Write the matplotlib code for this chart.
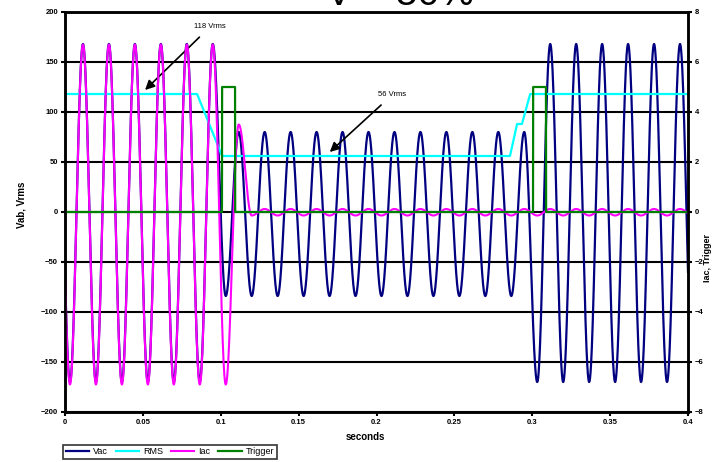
import numpy as np
import matplotlib
matplotlib.use("Agg")
matplotlib.rcParams["font.family"] = ["Liberation Sans", "DejaVu Sans"]
import matplotlib.pyplot as plt

# --- data ---
FREQ = 60.0                 # Hz
T_FIRST_EXT = 0.0032        # time of first waveform extreme (a trough), s
# signed extreme value of every half cycle (k = 0..47), voltage in V
V_EXT = ([-170, 168] * 6 + [-84] + [80, -84] * 11 + [80]
         + [-170] + [168, -170] * 5 + [168])
# current extremes in A (right axis)
I_EXT = ([-6.9, 6.7] * 6 + [-6.9] + [3.5] + [-0.14, 0.12] * 17)
# RMS trace breakpoints (s, Vrms)
RMS_T = [0.0, 0.0848, 0.1008, 0.2857, 0.2902, 0.2934, 0.2986, 0.4]
RMS_V = [118, 118, 56, 56, 88, 88, 118, 118]
# trigger pulses (start, end) in s, level on right axis
TRIG_PULSES = [(0.1008, 0.1092), (0.3005, 0.3088)]
TRIG_LEVEL = 5.0


def wave(ext, t):
    """sine-shaped half cycles joining the read extremes"""
    h = 0.5 / FREQ
    ext = [-ext[0]] + list(ext) + [-ext[-1]]
    tk = T_FIRST_EXT + (np.arange(len(ext)) - 1) * h
    y = np.zeros_like(t)
    for i in range(len(ext) - 1):
        m = (t >= tk[i]) & (t < tk[i + 1])
        a, b = ext[i], ext[i + 1]
        y[m] = (a + b) / 2 + (a - b) / 2 * np.cos(np.pi * (t[m] - tk[i]) / h)
    return y


t = np.linspace(0, 0.4, 12000)
vac = wave(V_EXT, t)
iac = wave(I_EXT, t)
rms = np.interp(t, RMS_T, RMS_V)
trig = np.zeros_like(t)
for a, b in TRIG_PULSES:
    trig[(t >= a) & (t <= b)] = TRIG_LEVEL

fig = plt.figure(figsize=(7.13, 4.62), dpi=100)
ax = fig.add_axes([65 / 713, 1 - 412 / 462, 623 / 713, 400 / 462])
ax2 = ax.twinx()

l1, = ax.plot(t, vac, color="#000080", lw=1.6)
l2, = ax.plot(t, rms, color="#00FFFF", lw=1.6)
l3, = ax2.plot(t, iac, color="#FF00FF", lw=1.5)
l4, = ax2.plot(t, trig, color="#008000", lw=1.6)

ax.set_xlim(0, 0.4)
ax.set_ylim(-200, 200)
ax2.set_ylim(-8, 8)
ax.set_xticks(np.arange(0, 0.41, 0.05))
ax.set_xticklabels(["0", "0.05", "0.1", "0.15", "0.2", "0.25", "0.3", "0.35", "0.4"])
ax.set_yticks(np.arange(-200, 201, 50))
ax2.set_yticks(np.arange(-8, 9, 2))
ax.yaxis.grid(True, color="black", lw=1.5)
ax.set_axisbelow(True)
for a in (ax, ax2):
    for sp in a.spines.values():
        sp.set_linewidth(1.8)
    a.tick_params(labelsize=5.5, width=1.5, length=3, pad=2)
    for lab in a.get_xticklabels() + a.get_yticklabels():
        lab.set_fontweight("bold")

ax.annotate("118 Vrms", xy=(0.0514, 122), xytext=(0.093, 185),
            ha="center", va="center", fontsize=5.5,
            arrowprops=dict(arrowstyle="-|>", color="black", lw=1.2,
                            mutation_scale=14, shrinkA=4, shrinkB=0))
ax.annotate("56 Vrms", xy=(0.170, 60), xytext=(0.210, 117),
            ha="center", va="center", fontsize=5.5,
            arrowprops=dict(arrowstyle="-|>", color="black", lw=1.2,
                            mutation_scale=14, shrinkA=4, shrinkB=0))

fig.text(22 / 713, 1 - 205 / 462, "Vab, Vrms", rotation=90, ha="center",
         va="center", fontsize=7, fontweight="bold")
fig.text(708 / 713, 1 - 258 / 462, "Iac, Trigger", rotation=90, ha="center",
         va="center", fontsize=6.5, fontweight="bold")
fig.text(365 / 713, 1 - 437 / 462, "seconds", ha="center", va="center",
         fontsize=7, fontweight="bold")
fig.text(400 / 713, 1 - 5 / 462, "V = 50%", ha="center", va="baseline",
         fontsize=28)

leg = fig.legend([l1, l2, l3, l4], ["Vac", "RMS", "Iac", "Trigger"],
                 loc="lower left", bbox_to_anchor=(63 / 713, 1 - 459 / 462),
                 ncol=4, fontsize=6.5, frameon=True, fancybox=False,
                 handlelength=2.6, columnspacing=0.9, handletextpad=0.4,
                 borderpad=0.3, borderaxespad=0)
leg.get_frame().set_edgecolor("black")
leg.get_frame().set_linewidth(1.2)

fig.savefig("out.png", dpi=100)
